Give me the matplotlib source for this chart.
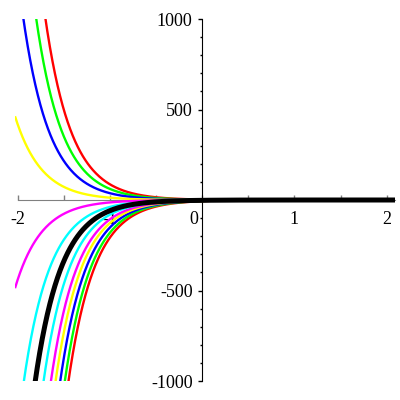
import numpy as np
import matplotlib
matplotlib.use("Agg")
import matplotlib.pyplot as plt
from matplotlib.ticker import MultipleLocator, FixedLocator, FixedFormatter
import matplotlib.transforms as mtransforms

# curves of the form y = C * exp(-k * x), constants
decayRate = 3.5
posConsts = [2.61, 1.84, 1.13, 0.38]
posColors = ["#ff0000", "#00ff00", "#0000ff", "#ffff00"]
negConsts = [-6.25, -5.44, -4.57, -3.83, -3.21, -2.43, -1.77, -1.15, -0.40]
negColors = ["#ff0000", "#00ff00", "#0000ff", "#ffff00", "#ff00ff",
             "#00ffff", "#000000", "#00ffff", "#ff00ff"]

xTicks = [-2, -1, 0, 1, 2]
xTickLabels = ["-2", "-1", "0", "1", "2"]
yTicks = [-1000, -500, 500, 1000]
yTickLabels = ["-1000", "-500", "500", "1000"]

plt.rcParams["font.family"] = ["Liberation Serif", "DejaVu Serif"]

fig = plt.figure(figsize=(4, 4), dpi=100)
ax = fig.add_axes([0.0375, 0.0475, 0.95, 0.905])

x = np.linspace(-2.03, 2.09, 600)
for c, col in zip(posConsts + negConsts, posColors + negColors):
    lw = 3.6 if col == "#000000" else 1.7
    z = 4 if col == "#000000" else 3
    ax.plot(x, c * np.exp(-decayRate * x), color=col, lw=lw, zorder=z,
            solid_capstyle="butt")

ax.set_xlim(-2.03, 2.09)
ax.set_ylim(-1000, 1000)

for side in ["top", "right"]:
    ax.spines[side].set_visible(False)
ax.spines["left"].set_position(("data", 0))
ax.spines["bottom"].set_position(("data", 0))
ax.spines["bottom"].set_bounds(-2, 2.09)
ax.spines["bottom"].set_color("#808080")
ax.spines["left"].set_color("black")
ax.spines["bottom"].set_zorder(2)

ax.xaxis.set_major_locator(FixedLocator(xTicks))
ax.xaxis.set_major_formatter(FixedFormatter(xTickLabels))
ax.xaxis.set_minor_locator(MultipleLocator(0.5))
ax.yaxis.set_major_locator(FixedLocator(yTicks))
ax.yaxis.set_major_formatter(FixedFormatter(yTickLabels))
ax.yaxis.set_minor_locator(MultipleLocator(100))

ax.tick_params(axis="x", which="both", direction="in", color="#808080",
               length=3.5, width=1, labelsize=13, pad=8)
ax.tick_params(axis="y", which="major", direction="out", color="black",
               length=3, width=1, labelsize=13, pad=4)
ax.tick_params(axis="y", which="minor", direction="out", color="black",
               length=1.5, width=1)

# shift the "0" label left of the vertical axis
shift = mtransforms.ScaledTranslation(-6 / 72, 0, fig.dpi_scale_trans)
for lab in ax.get_xticklabels():
    if lab.get_text() == "0":
        lab.set_transform(lab.get_transform() + shift)

fig.savefig("out.png", dpi=100)
